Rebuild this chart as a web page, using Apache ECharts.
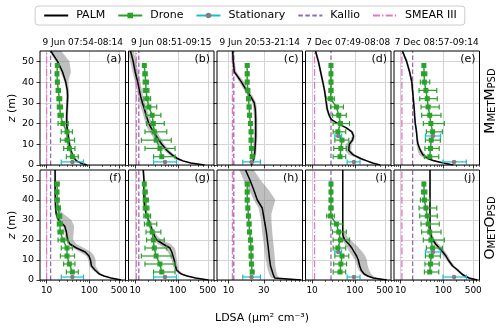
<!DOCTYPE html>
<html>
<head>
<meta charset="utf-8">
<script src="https://cdn.jsdelivr.net/npm/echarts@6/dist/echarts.min.js"></script>
<style>
html,body{margin:0;padding:0;background:#fff;}
#chart{width:500px;height:332px;}
</style>
</head>
<body>
<div id="chart"></div>
<script>
// ---------------- data ----------------
const panelTitles = ['9 Jun 07:54-08:14', '9 Jun 08:51-09:15', '9 Jun 20:53-21:14', '7 Dec 07:49-08:08', '7 Dec 08:57-09:14'];
const panelLetters = ['(a)', '(b)', '(c)', '(d)', '(e)', '(f)', '(g)', '(h)', '(i)', '(j)'];
const xTicksWide = [10, 100, 500];
const xTicksNarrow = [10, 30];
const xMinorWide = [7, 8, 9, 20, 30, 40, 50, 60, 70, 80, 90, 200, 300, 400, 600, 700];
const xMinorNarrow = [7, 8, 9, 20, 40, 50, 60, 70, 80, 90, 100];
const yTicks = [0, 10, 20, 30, 40, 50];

// PALM profiles (LDSA) at heights palmZ (m)
const palmZ = [0, 1, 2, 3, 5, 7, 10, 12, 14, 16, 18, 20, 22, 24, 27, 30, 33, 36, 40, 45, 50, 55];
const palmMid_a = [88, 62, 50, 45, 40, 37, 34, 33, 32, 31, 30, 29.5, 29.5, 29.5, 30, 30.5, 31, 30.5, 28, 23.5, 18, 12.5];
const palmLo_a  = [80, 57, 46, 42, 37.5, 34.5, 32, 31, 30, 29, 28, 27.5, 27.5, 27.5, 28, 28.5, 29, 28.5, 26, 21, 16, 11.5];
const palmHi_a  = [96, 68, 55, 49, 43, 40, 37, 35.5, 34.5, 33.5, 32.5, 32, 32, 32, 32.5, 33, 33.5, 33.5, 32, 37, 34, 22];
const palmMid_b = [420, 200, 130, 100, 72, 56, 42, 36, 31, 27, 23.5, 21, 19.5, 18, 16.5, 14.8, 13.5, 12.6, 11.5, 10, 9, 7.8];
const palmLo_b  = [380, 175, 112, 86, 62, 48, 36, 30, 25, 21.5, 19, 17.5, 16.5, 15.5, 14, 12.8, 11.8, 11, 10, 8.7, 7.7, 6.6];
const palmHi_b  = [460, 225, 150, 115, 82, 64, 48, 42, 37, 33, 28.5, 25, 23, 21, 19, 17, 15.5, 14.5, 13.3, 11.8, 10.6, 9.3];
const palmMid_c = [20.5, 21, 21.5, 22, 22.5, 22.8, 23, 23.2, 23.3, 23.3, 23.3, 23.3, 23.3, 23.2, 23, 22.3, 20, 17.5, 15, 12, 11.6, 11.4];
const palmLo_c  = [19.5, 20, 20.4, 20.9, 21.4, 21.7, 21.9, 22, 22.1, 22.1, 22.1, 22.1, 22.1, 22, 21.8, 21, 18.6, 16.3, 14, 11.4, 11.1, 10.9];
const palmHi_c  = [21.5, 22, 22.6, 23.1, 23.6, 23.9, 24.2, 24.4, 24.5, 24.5, 24.5, 24.5, 24.5, 24.4, 24.2, 23.6, 21.4, 18.8, 16.3, 12.8, 12.1, 11.9];
const palmMid_d = [390, 260, 190, 140, 90, 72, 74, 88, 93, 85, 62, 40, 28, 25, 22.5, 21.5, 20.5, 19.5, 17.8, 15.8, 14, 12];
const palmLo_d  = [370, 240, 170, 120, 72, 58, 60, 78, 86, 78, 57, 37, 26, 23.5, 21, 20.2, 19.3, 18.4, 16.8, 14.9, 13.2, 11.3];
const palmHi_d  = [410, 280, 210, 160, 100, 82, 84, 96, 100, 92, 67, 43, 30, 26.5, 24, 22.8, 21.7, 20.6, 18.8, 16.7, 14.8, 12.7];
const palmMid_e = [170, 100, 60, 45, 33, 29, 25.5, 24.5, 24, 23.5, 22.8, 22, 21.6, 21.2, 20.8, 20.2, 19.6, 19, 18.3, 16.2, 13.8, 11];
const palmLo_e  = [155, 88, 50, 37, 27, 25, 23.5, 23, 22.8, 22.3, 21.7, 21, 20.6, 20.2, 19.8, 19.2, 18.6, 18, 17.3, 15.3, 13, 10.4];
const palmHi_e  = [185, 112, 68, 52, 38, 32, 27, 26, 25.3, 24.7, 24, 23.1, 22.7, 22.3, 21.9, 21.2, 20.6, 20, 19.3, 17.1, 14.6, 11.6];
const palmMid_f = [550, 320, 220, 170, 135, 112, 106, 98, 80, 50, 35, 31, 30, 29, 26.5, 19, 16.8, 16.2, 16, 15.8, 15.8, 15.8];
const palmLo_f  = [500, 290, 200, 155, 120, 100, 95, 85, 60, 40, 31, 28, 27, 26, 24, 17.5, 15.8, 15.3, 15.2, 15, 15, 15];
const palmHi_f  = [600, 350, 245, 190, 160, 140, 140, 130, 110, 75, 50, 42, 42, 43, 44, 38, 25, 18, 17, 16.7, 16.7, 16.7];
const palmMid_g = [515, 260, 165, 120, 93, 88, 82, 77, 72, 65, 45, 32, 28.5, 26, 23, 20.5, 18.3, 16.8, 16.1, 16.1, 16.1, 15.5];
const palmLo_g  = [470, 235, 148, 106, 82, 77, 72, 66, 58, 48, 34, 27, 25, 23.5, 21, 19, 17.3, 15.9, 15.3, 15.3, 15.3, 14.7];
const palmHi_g  = [560, 285, 182, 135, 104, 100, 95, 92, 90, 85, 68, 42, 33, 29, 25.3, 22.2, 19.5, 17.8, 17, 17, 17, 16.3];
const palmMid_h = [95, 42, 40.5, 40, 38.5, 37, 36, 35.5, 35, 34.5, 34, 33.5, 33, 32.5, 31.5, 30.5, 29.5, 28.6, 24.5, 22, 19.5, 17];
const palmLo_h  = [85, 38, 36.5, 35.5, 34, 33, 32, 31.5, 31, 30.5, 30, 29.5, 29, 28.5, 28, 27.5, 26.5, 25.5, 22, 19, 16, 14];
const palmHi_h  = [100, 48, 46, 45, 44, 43, 42.5, 42, 41.5, 41, 40.5, 40, 39.5, 39, 38.5, 38, 38, 40, 43, 35, 27, 22];
const palmMid_i = [555, 270, 200, 165, 140, 130, 120, 110, 96, 85, 72, 58, 53, 52, 52, 52, 52, 52, 52, 52, 52, 52];
const palmLo_i  = [500, 240, 175, 145, 122, 112, 100, 88, 75, 66, 58, 50, 49, 50, 50.5, 50.5, 50.5, 50.5, 50.5, 50.5, 50.5, 50.5];
const palmHi_i  = [620, 330, 270, 240, 215, 200, 190, 175, 150, 125, 100, 80, 65, 56, 53.5, 53.5, 53.5, 53.5, 53.5, 53.5, 53.5, 53.5];
const palmMid_j = [620, 400, 320, 270, 215, 165, 130, 115, 97, 80, 66, 57, 52, 49, 48.7, 48.7, 48.7, 48.5, 48.7, 48.7, 48.7, 48.7];
const palmLo_j  = [580, 370, 290, 245, 195, 150, 118, 100, 84, 70, 58, 51, 48, 46.5, 46.5, 46.5, 46.5, 46.5, 46.5, 46.5, 46.5, 46.5];
const palmHi_j  = [660, 430, 350, 295, 235, 182, 145, 130, 112, 95, 78, 65, 57, 52, 51, 51, 51, 51, 51, 51, 51, 51];

// Drone observations (same in both rows), heights droneZ
const droneZ = [48, 44, 40, 36, 32, 28, 24, 20, 16, 12, 8, 4];
const droneVal_1 = [17.8, 17.5, 17.8, 18.8, 19.8, 20.3, 21, 24, 30, 30, 34, 40];
const droneLo_1  = [16.8, 16.3, 16.5, 16.8, 17.5, 17.8, 18.5, 18.5, 22, 21, 25, 29];
const droneHi_1  = [18.8, 18.8, 19.2, 21, 22.5, 23.5, 24.5, 32, 40, 45, 46, 55];
const droneVal_2 = [16.4, 17, 17.7, 18, 19, 21, 25, 26.6, 28, 31, 38, 42];
const droneLo_2  = [15.6, 15.5, 15.5, 15.5, 16, 16.5, 18, 18.6, 17, 14, 17, 27];
const droneHi_2  = [17.2, 19, 20.5, 21, 23, 32, 40, 48, 55, 70, 86, 86];
const droneVal_3 = [17.9, 17.9, 17.9, 18.3, 18.6, 19, 19.3, 19.8, 20.2, 20.2, 20.4, 20.9];
const droneLo_3  = [17, 17, 17, 17.4, 17.7, 18, 18.3, 18.8, 19.2, 19.2, 19.4, 19.9];
const droneHi_3  = [18.8, 18.8, 18.8, 19.2, 19.5, 20, 20.3, 20.8, 21.2, 21.2, 21.4, 21.9];
const droneVal_4 = [27.6, 27.6, 27.6, 27.6, 27, 37, 42, 46, 40, 50, 47, 45];
const droneLo_4  = [26, 26, 25.5, 25, 22, 27, 30, 31, 31, 34, 32, 31];
const droneHi_4  = [29.3, 29.3, 30, 30.5, 33, 54, 63, 75, 61, 72, 64, 61];
const droneVal_5 = [35, 35.5, 36, 39, 42, 44, 48, 51, 56, 52, 50, 48];
const droneLo_5  = [33.3, 31, 29, 27, 28, 30, 31, 34, 40, 38, 37, 36];
const droneHi_5  = [36.8, 41, 48, 70, 72, 80, 88, 105, 95, 85, 80, 78];

// Stationary observations
const statZ_1 = [1.5], statVal_1 = [40], statLo_1 = [22], statHi_1 = [73];
const statZ_2 = [1.5], statVal_2 = [50], statLo_2 = [27], statHi_2 = [93];
const statZ_3 = [1.5], statVal_3 = [20.5], statLo_3 = [15.6], statHi_3 = [27];
const statZ_4 = [1.5, 14], statVal_4 = [95, 41], statLo_4 = [66, 34], statHi_4 = [132, 49];
const statZ_5 = [1.5, 14], statVal_5 = [178, 57], statLo_5 = [98, 38], statHi_5 = [345, 86];

// Reference stations (constant LDSA)
const kallioVal = [12.4, 12.2, 11.8, 27.6, 19.1];
const smearVal = [10.0, 10.7, 11.3, 11.4, 10.7];

// ---------------- layout / style ----------------
const FONT = 'DejaVu Sans';
const GREEN = '#2ca02c', CYAN = '#17becf', GREYM = '#7f7f7f', PURPLE = '#9467bd', PINK = '#e377c2';
const X_MIN = 7, X_MAX = 700, X_MAX_NARROW = 100, Y_MIN = 0, Y_MAX = 55;
const colLeft = [40, 128.5, 217, 305.5, 394];
const colWidth = 85.5;
const rowTop = [51, 170];
const rowHeight = [114, 110];
const GRID_COLOR = '#d4d4d4';

const L = Math.log10;
const palmMid = [palmMid_a, palmMid_b, palmMid_c, palmMid_d, palmMid_e, palmMid_f, palmMid_g, palmMid_h, palmMid_i, palmMid_j];
const palmLo = [palmLo_a, palmLo_b, palmLo_c, palmLo_d, palmLo_e, palmLo_f, palmLo_g, palmLo_h, palmLo_i, palmLo_j];
const palmHi = [palmHi_a, palmHi_b, palmHi_c, palmHi_d, palmHi_e, palmHi_f, palmHi_g, palmHi_h, palmHi_i, palmHi_j];
const droneVal = [droneVal_1, droneVal_2, droneVal_3, droneVal_4, droneVal_5];
const droneLo = [droneLo_1, droneLo_2, droneLo_3, droneLo_4, droneLo_5];
const droneHi = [droneHi_1, droneHi_2, droneHi_3, droneHi_4, droneHi_5];
const statZ = [statZ_1, statZ_2, statZ_3, statZ_4, statZ_5];
const statVal = [statVal_1, statVal_2, statVal_3, statVal_4, statVal_5];
const statLo = [statLo_1, statLo_2, statLo_3, statLo_4, statLo_5];
const statHi = [statHi_1, statHi_2, statHi_3, statHi_4, statHi_5];

function bandRender(params, api) {
  if (params.dataIndexInside !== 0) return;
  const n = params.dataInsideLength;
  const left = [], right = [];
  for (let k = 0; k < n; k++) {
    left.push(api.coord([api.value(0, k), api.value(2, k)]));
    right.push(api.coord([api.value(1, k), api.value(2, k)]));
  }
  return {
    type: 'polygon',
    shape: { points: left.concat(right.reverse()) },
    style: { fill: 'rgba(128,128,128,0.5)', stroke: null }
  };
}
function makeErrRender(color) {
  return function (params, api) {
    const z = api.value(2);
    const a = api.coord([api.value(0), z]);
    const b = api.coord([api.value(1), z]);
    const cap = 2.5;
    const st = { stroke: color, lineWidth: 1.2 };
    return {
      type: 'group',
      children: [
        { type: 'line', shape: { x1: a[0], y1: a[1], x2: b[0], y2: b[1] }, style: st },
        { type: 'line', shape: { x1: a[0], y1: a[1] - cap, x2: a[0], y2: a[1] + cap }, style: st },
        { type: 'line', shape: { x1: b[0], y1: b[1] - cap, x2: b[0], y2: b[1] + cap }, style: st }
      ]
    };
  };
}

const grids = [], xAxes = [], yAxes = [], series = [], graphics = [];
for (let r = 0; r < 2; r++) {
  for (let c = 0; c < 5; c++) {
    const p = r * 5 + c;
    const narrow = (c === 2);
    const xmax = narrow ? X_MAX_NARROW : X_MAX;
    const majors = (narrow ? xTicksNarrow : xTicksWide).map(L);
    const minors = (narrow ? xMinorNarrow : xMinorWide).map(L);
    grids.push({
      left: colLeft[c], top: rowTop[r], width: colWidth, height: rowHeight[r],
      show: true, borderColor: '#000', borderWidth: 1, backgroundColor: 'transparent',
      z: 10, containLabel: false, outerBoundsMode: 'none'
    });
    xAxes.push({
      gridIndex: p, type: 'value', position: 'bottom', min: L(X_MIN), max: L(xmax),
      axisLine: { show: false },
      axisTick: { show: true, customValues: majors, length: 3.5, lineStyle: { color: '#000', width: 0.8 } },
      axisLabel: {
        show: r === 1, customValues: majors, fontSize: 9, color: '#000', fontFamily: FONT, margin: 6,
        formatter: v => String(Math.round(Math.pow(10, v)))
      },
      splitLine: { show: true, lineStyle: { color: GRID_COLOR, width: 1 } }
    });
    xAxes.push({
      gridIndex: p, type: 'value', position: 'bottom', min: L(X_MIN), max: L(xmax),
      axisLine: { show: false },
      axisTick: { show: true, customValues: minors, length: 2, lineStyle: { color: '#000', width: 0.6 } },
      axisLabel: { show: false },
      splitLine: { show: false }
    });
    yAxes.push({
      gridIndex: p, type: 'value', min: Y_MIN, max: Y_MAX,
      axisLine: { show: false },
      axisTick: { show: true, customValues: yTicks, length: 3.5, lineStyle: { color: '#000', width: 0.8 } },
      axisLabel: { show: c === 0, customValues: yTicks, fontSize: 9.5, color: '#000', fontFamily: FONT, margin: 6 },
      splitLine: { show: true, lineStyle: { color: GRID_COLOR, width: 1 } }
    });
    const xi = 2 * p, yi = p;
    const common = { xAxisIndex: xi, yAxisIndex: yi, silent: true, animation: false };
    series.push(Object.assign({
      type: 'custom', renderItem: bandRender, clip: true, z: 1,
      encode: { x: [0, 1], y: 2 },
      data: palmZ.map((z, k) => [L(palmLo[p][k]), L(palmHi[p][k]), z])
    }, common));
    series.push(Object.assign({
      type: 'line', name: 'Kallio', symbol: 'none', z: 2,
      data: [[L(kallioVal[c]), Y_MIN], [L(kallioVal[c]), Y_MAX]],
      lineStyle: { color: PURPLE, width: 1.3, type: [4.5, 2.5] }, itemStyle: { color: PURPLE }
    }, common));
    series.push(Object.assign({
      type: 'line', name: 'SMEAR III', symbol: 'none', z: 2,
      data: [[L(smearVal[c]), Y_MIN], [L(smearVal[c]), Y_MAX]],
      lineStyle: { color: PINK, width: 1.3, type: [7, 2.2, 1.3, 2.2] }, itemStyle: { color: PINK }
    }, common));
    series.push(Object.assign({
      type: 'line', name: 'PALM', symbol: 'none', z: 3,
      data: palmZ.map((z, k) => [L(palmMid[p][k]), z]),
      lineStyle: { color: '#000', width: 1.5 }, itemStyle: { color: '#000' }
    }, common));
    series.push(Object.assign({
      type: 'custom', renderItem: makeErrRender(GREEN), clip: true, z: 4,
      encode: { x: [0, 1], y: 2 },
      data: droneZ.map((z, k) => [L(droneLo[c][k]), L(droneHi[c][k]), z])
    }, common));
    series.push(Object.assign({
      type: 'line', name: 'Drone', symbol: 'rect', symbolSize: 5, showSymbol: true, z: 5,
      data: droneZ.map((z, k) => [L(droneVal[c][k]), z]),
      lineStyle: { color: GREEN, width: 1.5 }, itemStyle: { color: GREEN }
    }, common));
    series.push(Object.assign({
      type: 'custom', renderItem: makeErrRender(CYAN), clip: true, z: 6,
      encode: { x: [0, 1], y: 2 },
      data: statZ[c].map((z, k) => [L(statLo[c][k]), L(statHi[c][k]), z])
    }, common));
    statZ[c].forEach((z, k) => {
      series.push(Object.assign({
        type: 'line', name: 'Stationary', symbol: 'circle', symbolSize: 4.5, showSymbol: true, z: 7,
        data: [[L(statVal[c][k]), z]],
        lineStyle: { color: CYAN, width: 1.5 }, itemStyle: { color: GREYM }
      }, common));
    });
    graphics.push({
      type: 'text', x: colLeft[c] + colWidth - 4, y: rowTop[r] + 3, z: 20,
      style: { text: panelLetters[p], align: 'right', verticalAlign: 'top', fontSize: 11, fontFamily: FONT, fill: '#000' }
    });
    if (r === 0) {
      graphics.push({
        type: 'text', x: colLeft[c] + colWidth / 2, y: rowTop[0] - 8, z: 20,
        style: { text: panelTitles[c], align: 'center', verticalAlign: 'middle', fontSize: 9, fontFamily: FONT, fill: '#000' }
      });
    }
  }
  graphics.push({
    type: 'text', x: 12, y: rowTop[r] + rowHeight[r] / 2, rotation: Math.PI / 2, z: 20,
    style: {
      text: '{i|z} (m)', align: 'center', verticalAlign: 'middle', fontSize: 11, fontFamily: FONT, fill: '#000',
      rich: { i: { fontStyle: 'italic', fontSize: 11, fontFamily: FONT, fill: '#000' } }
    }
  });
}
const rowLabelText = ['{m|M}{s|MET}{m|M}{s|PSD}', '{m|O}{s|MET}{m|O}{s|PSD}'];
const rowLabelY = [101, 228];
for (let r = 0; r < 2; r++) {
  graphics.push({
    type: 'text', x: 489, y: rowLabelY[r], rotation: Math.PI / 2, z: 20,
    style: {
      text: rowLabelText[r], align: 'center', verticalAlign: 'middle', fontFamily: FONT, fill: '#000',
      rich: {
        m: { fontSize: 14, fontFamily: FONT, fill: '#000', verticalAlign: 'bottom', lineHeight: 16 },
        s: { fontSize: 10, fontFamily: FONT, fill: '#000', verticalAlign: 'bottom', lineHeight: 10 }
      }
    }
  });
}
graphics.push({
  type: 'text', x: 262, y: 318, z: 20,
  style: { text: 'LDSA (µm² cm⁻³)', align: 'center', verticalAlign: 'middle', fontSize: 11, fontFamily: FONT, fill: '#000' }
});

const noSymbol = { opacity: 0 };
const chart = echarts.init(document.getElementById('chart'), null, { renderer: 'canvas' });
chart.setOption({
  animation: false,
  backgroundColor: '#fff',
  textStyle: { fontFamily: FONT },
  legend: {
    data: [
      { name: 'PALM', itemStyle: noSymbol },
      { name: 'Drone' },
      { name: 'Stationary' },
      { name: 'Kallio', itemStyle: noSymbol },
      { name: 'SMEAR III', itemStyle: noSymbol }
    ],
    top: 6, left: 'center', itemWidth: 24, itemHeight: 7, itemGap: 12,
    padding: [4, 8], borderColor: '#cccccc', borderWidth: 1, borderRadius: 3,
    backgroundColor: '#fff',
    textStyle: { fontSize: 11, fontFamily: FONT, color: '#000', padding: [0, 0, 0, 3] },
    selectedMode: false
  },
  grid: grids,
  xAxis: xAxes,
  yAxis: yAxes,
  series: series,
  graphic: { elements: graphics }
});
</script>
</body>
</html>
